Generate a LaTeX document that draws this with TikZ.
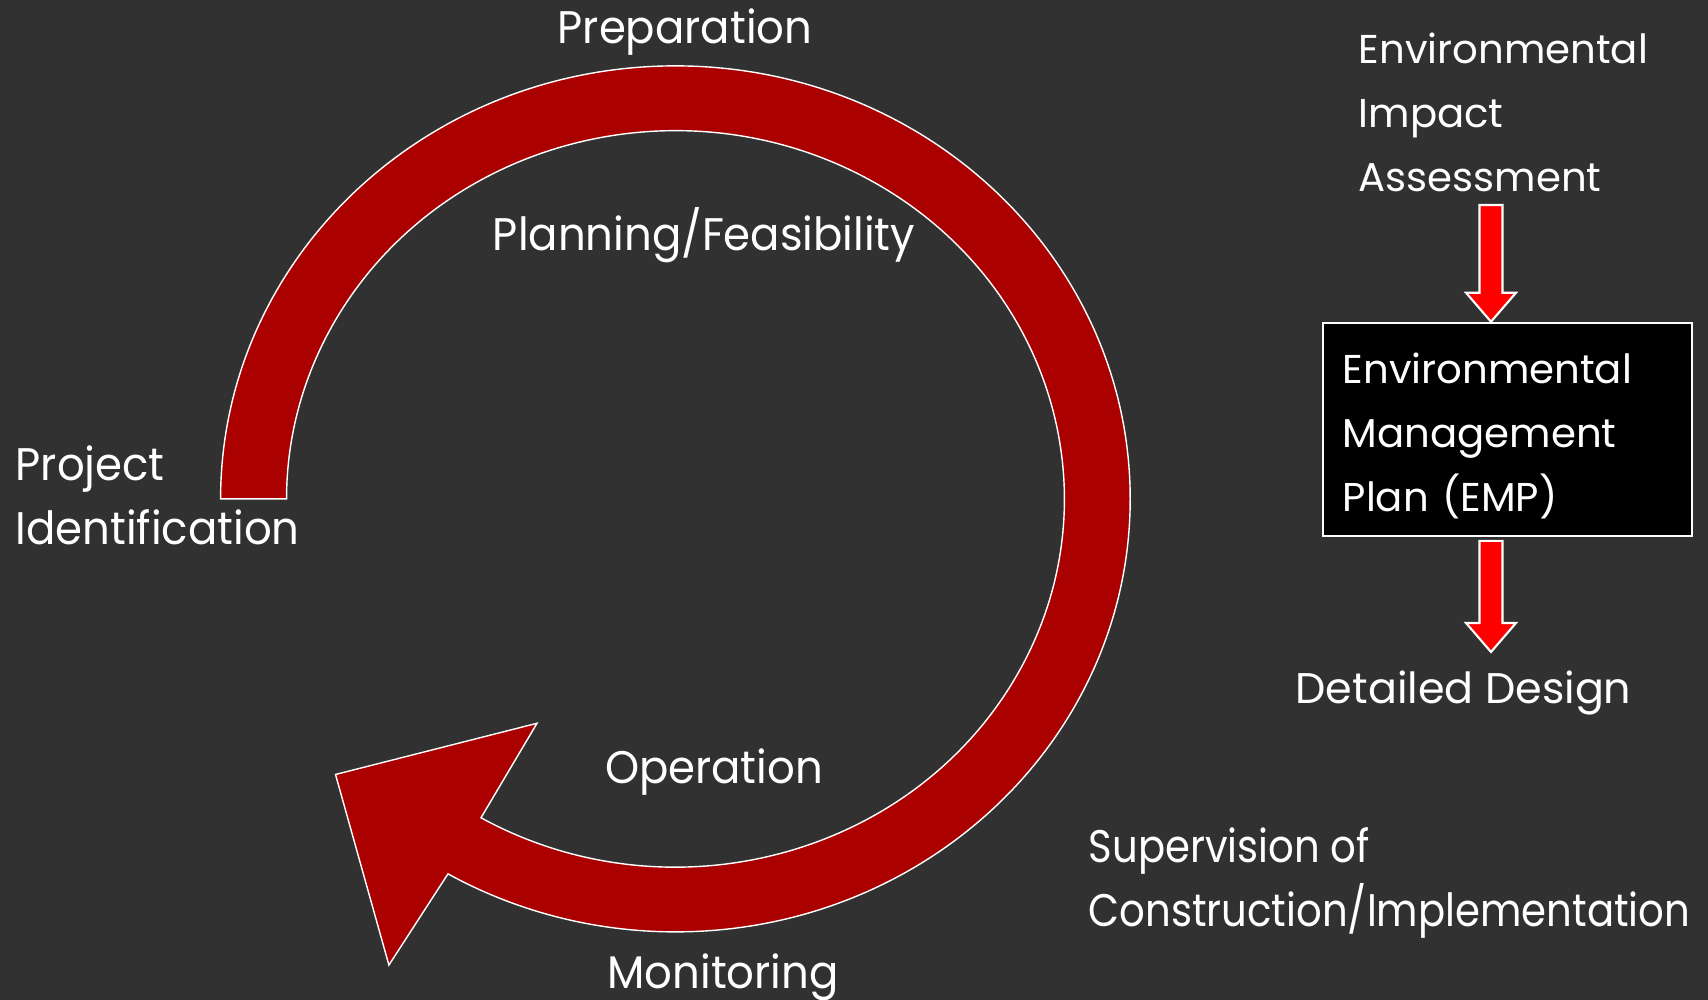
\documentclass[tikz,border=0pt]{standalone}
\usepackage{fontspec}
\setmainfont{Poppins}
\newfontfamily\stagefont[FakeStretch=0.95]{Poppins}
\newfontfamily\narrowfont[FakeStretch=0.88]{Poppins}
\usetikzlibrary{calc}

\definecolor{bg}{HTML}{313131}
\definecolor{cyclered}{HTML}{AA0000}
\definecolor{arrowred}{HTML}{FF0000}

\tikzset{
  stage/.style={text=white, inner sep=0pt, align=left,
    font=\stagefont\fontsize{13}{18.3}\selectfont},
  doc/.style={text=white, inner sep=0pt, align=left,
    font=\fontsize{11.45}{18.3}\selectfont},
  cyclearrow/.style={fill=cyclered, draw=white, line width=0.4pt},
  redarrow/.style={fill=arrowred, draw=white, line width=0.6pt},
}

% block arrow going down from #1 to #2
\newcommand{\blockdown}[2]{%
  \draw[redarrow] ($(#1)+(-0.115,0)$) -- ($(#2)+(-0.115,0.29)$)
    -- ($(#2)+(-0.25,0.29)$) -- (#2) -- ($(#2)+(0.25,0.29)$)
    -- ($(#2)+(0.115,0.29)$) -- ($(#1)+(0.115,0)$) -- cycle;}

\begin{document}
\begin{tikzpicture}
  \fill[bg] (0,0) rectangle (17.08,10);
  \useasboundingbox (0,0) rectangle (17.08,10);

  % the cycle
  \draw[cyclearrow] (2.206,5.011)
    arc[start angle=180, end angle=-120, x radius=4.548, y radius=4.33]
    -- (3.889,0.349) -- (3.355,2.255) -- (5.37,2.767) -- (4.81,1.822)
    arc[start angle=-120, end angle=180, x radius=3.889, y radius=3.682]
    -- cycle;

  % base anchor = last line
  \node[stage, anchor=base] (prep) at (6.85,9.564) {Preparation};
  \node[stage, anchor=base] (plan) at (7.04,7.495) {Planning/Feasibility};
  \node[stage, anchor=base west] (ident) at (0.15,4.554) {Project\\Identification};
  \node[stage, anchor=base] (oper) at (7.14,2.16) {Operation};
  \node[stage, anchor=base] (monit) at (7.23,0.11) {Monitoring};
  \node[stage, anchor=base west, font=\narrowfont\fontsize{13}{18.3}\selectfont]
    (superv) at (10.88,0.73) {Supervision of\\Construction/Implementation};

  % EIA side
  \node[doc, anchor=base west] (eia) at (13.58,8.083) {Environmental\\Impact\\Assessment};
  \node[doc, fill=black, draw=white, line width=0.6pt, inner xsep=0.2cm,
    text width=3.29cm, minimum height=2.13cm] (emp) at (15.072,5.707)
    {\rule{0pt}{12.5pt}Environmental\\Management\\Plan (EMP)};
  \node[doc, anchor=base, font=\fontsize{12.2}{18.3}\selectfont] (design) at (14.635,2.963) {Detailed Design};

  \coordinate (a1) at (14.91,7.95);
  \coordinate (a1tip) at (a1 |- emp.north);
  \coordinate (a2) at ($(a1 |- emp.south)+(0,-0.04)$);
  \coordinate (a2tip) at (14.91,3.48);
  \blockdown{a1}{a1tip}
  \blockdown{a2}{a2tip}
\end{tikzpicture}
\end{document}
